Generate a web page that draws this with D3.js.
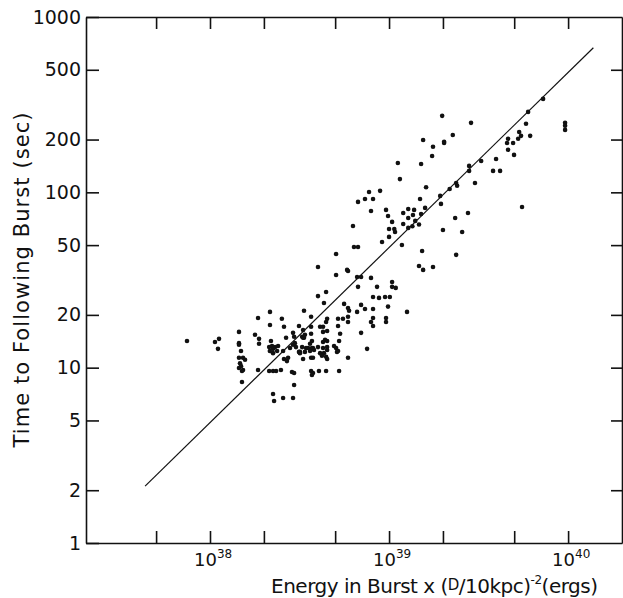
<!DOCTYPE html>
<html><head><meta charset="utf-8">
<script src="https://cdn.jsdelivr.net/npm/d3@7"></script>
<style>body{margin:0;background:#fff}</style>
</head><body>
<svg id="c" width="623" height="598"></svg>
<script>
// Burst energy in units of 1e38 erg (scaled to D = 10 kpc)
const energy = [
0.744,1.066,1.123,1.108,1.452,1.452,1.452,1.490,1.452,1.529,1.569,1.471,1.490,1.452,1.529,1.509,1.509,1.855,1.784,1.879,
1.879,1.855,2.163,2.163,2.19,2.14,2.22,2.31,2.40,2.25,2.16,2.37,2.25,2.14,2.25,2.34,2.49,2.25,2.28,2.56,
2.52,2.59,2.66,2.56,2.59,2.69,2.73,2.91,2.95,2.98,3.02,2.91,3.14,2.80,2.87,2.95,2.95,2.91,3.14,3.35,
3.27,3.35,3.18,3.31,4.01,5.06,5.06,5.90,4.01,4.45,4.33,5.61,5.90,5.98,3.67,4.51,4.45,4.28,5.19,5.53,
5.90,5.90,4.12,3.31,3.39,3.31,3.67,3.67,4.28,4.51,5.19,5.33,4.39,4.28,4.51,5.26,3.71,3.62,3.27,3.44,
3.53,3.71,3.76,3.39,3.62,3.81,4.01,4.28,4.51,4.51,4.33,4.45,4.51,4.93,5.06,5.12,5.19,3.18,4.12,4.22,
7.54,5.90,3.67,3.76,3.67,3.76,3.71,4.06,4.45,5.26,6.98,6.37,6.71,9.14,11.8,15.3,14.7,15.5,6.63,6.98,
7.93,6.71,10.4,10.4,10.9,8.57,8.14,8.79,9.50,10.1,6.98,7.34,8.14,9.87,12.6,6.63,8.14,7.93,8.14,9.62,
9.62,17.6,5.83,6.29,15.5,17.6,20.3,17.4,11.2,15.1,28.0,28.0,11.5,16.1,7.73,8.91,23.7,24.0,21.8,6.71,
7.34,8.14,14.9,19.3,19.5,7.93,9.62,15.9,12.0,12.8,13.8,13.6,12.8,12.0,15.1,9.87,10.4,10.7,10.0,10.8,
14.0,14.7,13.5,12.8,27.6,23.4,20.0,25.6,10.0,23.7,19.8,28.7,22.7,20.3,72.5,96.2,96.2,96.2,59.8,58.2,
53.3,54.6,52.6,61.4,46.2,45.6,49.3,46.2,49.9,39.6,38.1,41.7,32.7,30.2,55.3
];
// Time to following burst (s)
const waitTime = [
14.2,14.0,14.6,12.8,16.0,13.8,13.5,12.45,11.4,11.4,11.1,10.6,10.2,9.96,9.70,9.57,8.29,19.2,15.4,14.6,
13.7,9.70,20.8,17.5,14.2,13.1,13.3,13.1,13.3,12.8,12.45,12.45,12.1,9.57,9.57,9.57,9.70,7.08,6.46,6.72,
19.0,17.1,14.8,12.45,11.2,10.9,11.4,15.8,15.0,13.8,13.1,13.5,12.3,12.95,9.45,9.33,7.97,6.72,17.3,21.1,
15.0,14.8,12.3,11.2,37.5,44.5,33.8,35.6,25.6,27.0,23.4,23.1,21.9,21.1,19.5,19.0,18.2,17.1,19.0,19.0,
19.5,18.2,17.1,16.4,15.4,14.8,17.1,15.6,16.0,16.2,17.3,15.6,14.4,14.0,14.2,14.2,14.2,13.7,13.1,12.95,
12.95,12.95,12.95,12.3,12.45,12.6,13.1,12.95,13.1,12.6,12.1,11.55,11.2,13.3,12.95,12.3,12.45,12.1,12.1,11.7,
12.8,11.4,11.4,11.4,9.57,9.33,9.09,9.57,9.57,9.57,15.8,48.8,48.8,52.1,50.1,46.3,38.0,36.1,32.9,32.9,
32.5,28.9,30.8,28.9,28.5,28.9,25.3,25.0,25.3,25.3,22.8,21.6,21.6,22.3,20.8,20.8,19.2,18.2,17.3,19.2,
18.2,37.5,36.1,64.3,199,182,191,161,147,145,141.5,132.5,119,107,100.5,102,113,109,104.5,88.2,
91.6,91.6,91.6,95.4,85.9,78.3,79.4,81.5,76.3,80.4,79.4,74.3,71.4,66.0,75.3,73.3,67.8,61.8,61.8,59.4,
68.7,65.6,64.0,62.7,76.3,71.4,61.0,59.4,55.7,44.0,273,249,212.5,194,341,249,240,227,287.5,246,
221,210,202,210,202,191,191,175,163.5,155,132.5,132.5,151,113,82.5
];
// Fitted line end points (energy in 1e38 erg, time in s)
const fitEnergy = [0.434, 138.4];
const fitTime = [2.11, 668];

const xTickValues = [0.5, 1, 2, 5, 10, 20, 50, 100];
const xLabelValues = [1, 10, 100];
const xLabelExponents = ["38", "39", "40"];
const yTickValues = [1, 2, 5, 10, 20, 50, 100, 200, 500, 1000];
const yRightTicks = [2, 5, 10, 20, 50, 100, 200, 500];

const font = "'DejaVu Sans', sans-serif";
const ink = "#111";
const svg = d3.select("#c");
const L = 86, R = 622, T = 17, B = 543;
const x = d3.scaleLog().domain([0.203, 200]).range([L, R]);
const y = d3.scaleLog().domain([1, 1000]).range([B, T]);

function styleAxis(g) {
  g.selectAll("path,line").attr("stroke", ink).attr("stroke-width", 1.6);
  g.selectAll("text").attr("font-family", font).attr("font-size", 19).attr("fill", ink);
}

svg.append("g").attr("transform", `translate(${L},0)`)
  .call(d3.axisLeft(y).tickValues(yTickValues).tickFormat(d3.format("d"))
    .tickSizeInner(-13).tickSizeOuter(0).tickPadding(5))
  .call(styleAxis);
svg.append("g").attr("transform", `translate(${R},0)`)
  .call(d3.axisRight(y).tickValues(yRightTicks).tickFormat(() => "")
    .tickSizeInner(-11).tickSizeOuter(0))
  .call(styleAxis);
svg.append("g").attr("transform", `translate(0,${B})`)
  .call(d3.axisBottom(x).tickValues(xTickValues).tickFormat(() => "")
    .tickSizeInner(-12).tickSizeOuter(0))
  .call(styleAxis);
svg.append("g").attr("transform", `translate(0,${T})`)
  .call(d3.axisTop(x).tickValues(xTickValues).tickFormat(() => "")
    .tickSizeInner(-12).tickSizeOuter(0))
  .call(styleAxis);

xLabelValues.forEach((v, i) => {
  const t = svg.append("text").attr("x", x(v) - 16).attr("y", 566)
    .attr("font-family", font).attr("font-size", 18).attr("fill", ink);
  t.append("tspan").text("10");
  t.append("tspan").attr("font-size", 12).attr("dy", -8).text(xLabelExponents[i]);
});

// fitted line
svg.append("path")
  .datum(fitEnergy.map((e, i) => [e, fitTime[i]]))
  .attr("d", d3.line().x(d => x(d[0])).y(d => y(d[1])))
  .attr("fill", "none").attr("stroke", ink).attr("stroke-width", 1.2);

// points
svg.append("g").selectAll("circle")
  .data(energy.map((e, i) => [e, waitTime[i]]))
  .join("circle")
  .attr("cx", d => x(d[0])).attr("cy", d => y(d[1]))
  .attr("r", 2.3).attr("fill", ink);

// y title
svg.append("text")
  .attr("transform", "translate(29,280) rotate(-90)")
  .attr("text-anchor", "middle")
  .attr("font-family", font).attr("font-size", 21).attr("fill", ink)
  .attr("textLength", 335).attr("lengthAdjust", "spacing")
  .text("Time to Following Burst (sec)");

// x title
const xt = svg.append("text").attr("x", 271).attr("y", 593)
  .attr("font-family", font).attr("font-size", 20).attr("fill", ink)
  .attr("textLength", 327).attr("lengthAdjust", "spacing");
xt.append("tspan").text("Energy in Burst x (");
xt.append("tspan").attr("font-size", 15).attr("dy", -3).text("D");
xt.append("tspan").attr("dy", 3).text("/10kpc)");
xt.append("tspan").attr("font-size", 12).attr("dy", -9).text("-2");
xt.append("tspan").attr("dy", 9).text("(ergs)");
</script>
</body></html>
